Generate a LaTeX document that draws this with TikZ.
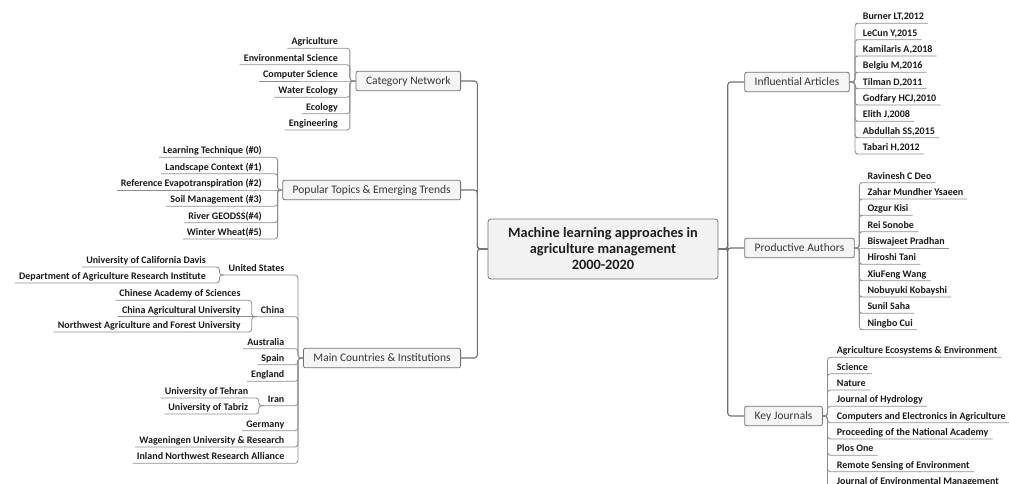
\documentclass[tikz,border=0pt]{standalone}
\usepackage{fontspec}
\setmainfont{Carlito}

\definecolor{gristrait}{HTML}{8E8E8E}
\definecolor{grisbord}{HTML}{727272}
\definecolor{fondboite}{HTML}{F5F5F5}

\tikzset{
  boite/.style={draw=grisbord, fill=fondboite, rounded corners=2pt, line width=0.8pt,
    inner xsep=10pt, minimum height=19.5pt, text=black!78,
    font=\fontsize{11.5}{13}\selectfont},
  feuille/.style={inner xsep=4pt, inner ysep=1.5pt, text height=7pt, text depth=2pt,
    text=black!90, font=\bfseries\fontsize{10}{12}\selectfont},
  trait/.style={draw=gristrait, line width=0.8pt, rounded corners=3pt},
  tronc/.style={draw=grisbord, line width=1.1pt, rounded corners=3pt},
}

\begin{document}
\begin{tikzpicture}[x=1pt,y=-1pt]

\useasboundingbox (0,0) rectangle (1009,483) ;

% boite centrale

\node[boite, fill=black!5, rounded corners=3pt, align=center, minimum width=230pt,
  minimum height=60pt, text=black!88, font=\bfseries\fontsize{14.3}{16}\selectfont]
  (centre) at (603,249) {Machine learning approaches in\\agriculture management\\2000-2020} ;

% branches

\node[boite, anchor=east] (cat) at (461,81) {Category Network} ;
\node[boite, anchor=east] (pop) at (461,190) {Popular Topics \& Emerging Trends} ;
\node[boite, anchor=east] (mci) at (461,358) {Main Countries \& Institutions} ;

\node[boite, anchor=west] (art) at (744.3,82) {Influential Articles} ;
\node[boite, anchor=west] (aut) at (744.3,248) {Productive Authors} ;
\node[boite, anchor=west] (jou) at (744.3,416) {Key Journals} ;

\draw[tronc] (centre.west) -- ++(-10.3,0) |- (cat.east) ;
\draw[tronc] (centre.west) -- ++(-10.3,0) |- (pop.east) ;
\draw[tronc] (centre.west) -- ++(-10.3,0) |- (mci.east) ;
\draw[tronc] (centre.east) -- ++(9.3,0) |- (art.west) ;
\draw[tronc] (centre.east) -- ++(9.3,0) |- (aut.west) ;
\draw[tronc] (centre.east) -- ++(9.3,0) |- (jou.west) ;

% feuilles Category Network

\node[feuille, anchor=south east] (cat1) at (342,48.3) {Agriculture} ;
\node[feuille, anchor=south east] (cat2) at (342,64.7) {Environmental Science} ;
\node[feuille, anchor=south east] (cat3) at (342,81) {Computer Science} ;
\node[feuille, anchor=south east] (cat4) at (342,97.3) {Water Ecology} ;
\node[feuille, anchor=south east] (cat5) at (342,113.7) {Ecology} ;
\node[feuille, anchor=south east] (cat6) at (342,130) {Engineering} ;

\draw[trait] (cat.west) -- ++(-5.7,0) |- (cat1.south east) -- (cat1.south west) ;
\draw[trait] (cat.west) -- ++(-5.7,0) |- (cat2.south east) -- (cat2.south west) ;
\draw[trait] (cat.west) -- (cat3.south east) -- (cat3.south west) ;
\draw[trait] (cat.west) -- ++(-5.7,0) |- (cat4.south east) -- (cat4.south west) ;
\draw[trait] (cat.west) -- ++(-5.7,0) |- (cat5.south east) -- (cat5.south west) ;
\draw[trait] (cat.west) -- ++(-5.7,0) |- (cat6.south east) -- (cat6.south west) ;

% feuilles Popular Topics

\node[feuille, anchor=south east] (pop1) at (266,157.3) {Learning Technique (\#0)} ;
\node[feuille, anchor=south east] (pop2) at (266,173.7) {Landscape Context (\#1)} ;
\node[feuille, anchor=south east] (pop3) at (266,190) {Reference Evapotranspiration (\#2)} ;
\node[feuille, anchor=south east] (pop4) at (266,206.3) {Soil Management (\#3)} ;
\node[feuille, anchor=south east] (pop5) at (266,222.7) {River GEODSS(\#4)} ;
\node[feuille, anchor=south east] (pop6) at (266,239) {Winter Wheat(\#5)} ;

\draw[trait] (pop.west) -- ++(-4.7,0) |- (pop1.south east) -- (pop1.south west) ;
\draw[trait] (pop.west) -- ++(-4.7,0) |- (pop2.south east) -- (pop2.south west) ;
\draw[trait] (pop.west) -- (pop3.south east) -- (pop3.south west) ;
\draw[trait] (pop.west) -- ++(-4.7,0) |- (pop4.south east) -- (pop4.south west) ;
\draw[trait] (pop.west) -- ++(-4.7,0) |- (pop5.south east) -- (pop5.south west) ;
\draw[trait] (pop.west) -- ++(-4.7,0) |- (pop6.south east) -- (pop6.south west) ;

% feuilles Main Countries

\node[feuille, anchor=south east] (usa) at (288.5,275) {United States} ;
\node[feuille, anchor=south east] (chn) at (288.5,316.7) {China} ;
\node[feuille, anchor=south east] (aus) at (288.5,348.7) {Australia} ;
\node[feuille, anchor=south east] (esp) at (288.5,364.7) {Spain} ;
\node[feuille, anchor=south east] (eng) at (288.5,381.3) {England} ;
\node[feuille, anchor=south east] (irn) at (288.5,405.7) {Iran} ;
\node[feuille, anchor=south east] (deu) at (288.5,430.7) {Germany} ;
\node[feuille, anchor=south east] (wur) at (288.5,447) {Wageningen University \& Research} ;
\node[feuille, anchor=south east] (inw) at (288.5,463.3) {Inland Northwest Research Alliance} ;

\draw[trait] (mci.west) -- ++(-5,0) |- (usa.south east) -- (usa.south west) ;
\draw[trait] (mci.west) -- ++(-5,0) |- (chn.south east) -- (chn.south west) ;
\draw[trait] (mci.west) -- ++(-5,0) |- (aus.south east) -- (aus.south west) ;
\draw[trait] (mci.west) -- ++(-5,0) |- (esp.south east) -- (esp.south west) ;
\draw[trait] (mci.west) -- ++(-5,0) |- (eng.south east) -- (eng.south west) ;
\draw[trait] (mci.west) -- ++(-5,0) |- (irn.south east) -- (irn.south west) ;
\draw[trait] (mci.west) -- ++(-5,0) |- (deu.south east) -- (deu.south west) ;
\draw[trait] (mci.west) -- ++(-5,0) |- (wur.south east) -- (wur.south west) ;
\draw[trait] (mci.west) -- ++(-5,0) |- (inw.south east) -- (inw.south west) ;

% institutions

\node[feuille, anchor=south east] (usa1) at (210,267) {University of California Davis} ;
\node[feuille, anchor=south east] (usa2) at (210,283) {Department of Agriculture Research Institute} ;
\node[feuille, anchor=south east] (chn1) at (244.7,300.3) {Chinese Academy of Sciences} ;
\node[feuille, anchor=south east] (chn2) at (244.7,316.7) {China Agricultural University} ;
\node[feuille, anchor=south east] (chn3) at (244.7,332) {Northwest Agriculture and Forest University} ;
\node[feuille, anchor=south east] (irn1) at (252.3,398) {University of Tehran} ;
\node[feuille, anchor=south east] (irn2) at (252.3,414) {University of Tabriz} ;

\draw[trait] (usa.south west) -- ++(-5,0) |- (usa1.south east) -- (usa1.south west) ;
\draw[trait] (usa.south west) -- ++(-5,0) |- (usa2.south east) -- (usa2.south west) ;
\draw[trait] (chn.south west) -- ++(-5,0) |- (chn1.south east) -- (chn1.south west) ;
\draw[trait] (chn.south west) -- (chn2.south east) -- (chn2.south west) ;
\draw[trait] (chn.south west) -- ++(-5,0) |- (chn3.south east) -- (chn3.south west) ;
\draw[trait] (irn.south west) -- ++(-5,0) |- (irn1.south east) -- (irn1.south west) ;
\draw[trait] (irn.south west) -- ++(-5,0) |- (irn2.south east) -- (irn2.south west) ;

% feuilles Influential Articles

\node[feuille, anchor=south west] (art1) at (858.7,23.3) {Burner LT,2012} ;
\node[feuille, anchor=south west] (art2) at (858.7,39.7) {LeCun Y,2015} ;
\node[feuille, anchor=south west] (art3) at (858.7,56) {Kamilaris A,2018} ;
\node[feuille, anchor=south west] (art4) at (858.7,72.3) {Belgiu M,2016} ;
\node[feuille, anchor=south west] (art5) at (858.7,88.7) {Tilman D,2011} ;
\node[feuille, anchor=south west] (art6) at (858.7,105) {Godfary HCJ,2010} ;
\node[feuille, anchor=south west] (art7) at (858.7,121.3) {Elith J,2008} ;
\node[feuille, anchor=south west] (art8) at (858.7,137.7) {Abdullah SS,2015} ;
\node[feuille, anchor=south west] (art9) at (858.7,154) {Tabari H,2012} ;

\draw[trait] (art.east) -- ++(5.3,0) |- (art1.south west) -- (art1.south east) ;
\draw[trait] (art.east) -- ++(5.3,0) |- (art2.south west) -- (art2.south east) ;
\draw[trait] (art.east) -- ++(5.3,0) |- (art3.south west) -- (art3.south east) ;
\draw[trait] (art.east) -- ++(5.3,0) |- (art4.south west) -- (art4.south east) ;
\draw[trait] (art.east) -- ++(5.3,0) |- (art5.south west) -- (art5.south east) ;
\draw[trait] (art.east) -- ++(5.3,0) |- (art6.south west) -- (art6.south east) ;
\draw[trait] (art.east) -- ++(5.3,0) |- (art7.south west) -- (art7.south east) ;
\draw[trait] (art.east) -- ++(5.3,0) |- (art8.south west) -- (art8.south east) ;
\draw[trait] (art.east) -- ++(5.3,0) |- (art9.south west) -- (art9.south east) ;

% feuilles Productive Authors

\node[feuille, anchor=south west] (aut1) at (863.3,182.7) {Ravinesh C Deo} ;
\node[feuille, anchor=south west] (aut2) at (863.3,199) {Zahar Mundher Ysaeen} ;
\node[feuille, anchor=south west] (aut3) at (863.3,215.3) {Ozgur Kisi} ;
\node[feuille, anchor=south west] (aut4) at (863.3,231.7) {Rei Sonobe} ;
\node[feuille, anchor=south west] (aut5) at (863.3,248) {Biswajeet Pradhan} ;
\node[feuille, anchor=south west] (aut6) at (863.3,264.3) {Hiroshi Tani} ;
\node[feuille, anchor=south west] (aut7) at (863.3,280.7) {XiuFeng Wang} ;
\node[feuille, anchor=south west] (aut8) at (863.3,297) {Nobuyuki Kobayshi} ;
\node[feuille, anchor=south west] (aut9) at (863.3,313.3) {Sunil Saha} ;
\node[feuille, anchor=south west] (aut10) at (863.3,329.7) {Ningbo Cui} ;

\draw[trait] (aut.east) -- ++(4.7,0) |- (aut1.south west) -- (aut1.south east) ;
\draw[trait] (aut.east) -- ++(4.7,0) |- (aut2.south west) -- (aut2.south east) ;
\draw[trait] (aut.east) -- ++(4.7,0) |- (aut3.south west) -- (aut3.south east) ;
\draw[trait] (aut.east) -- ++(4.7,0) |- (aut4.south west) -- (aut4.south east) ;
\draw[trait] (aut.east) -- (aut5.south west) -- (aut5.south east) ;
\draw[trait] (aut.east) -- ++(4.7,0) |- (aut6.south west) -- (aut6.south east) ;
\draw[trait] (aut.east) -- ++(4.7,0) |- (aut7.south west) -- (aut7.south east) ;
\draw[trait] (aut.east) -- ++(4.7,0) |- (aut8.south west) -- (aut8.south east) ;
\draw[trait] (aut.east) -- ++(4.7,0) |- (aut9.south west) -- (aut9.south east) ;
\draw[trait] (aut.east) -- ++(4.7,0) |- (aut10.south west) -- (aut10.south east) ;

% feuilles Key Journals

\node[feuille, anchor=south west] (jou1) at (832.7,357.3) {Agriculture Ecosystems \& Environment} ;
\node[feuille, anchor=south west] (jou2) at (832.7,373.7) {Science} ;
\node[feuille, anchor=south west] (jou3) at (832.7,390) {Nature} ;
\node[feuille, anchor=south west] (jou4) at (832.7,406.3) {Journal of Hydrology} ;
\node[feuille, anchor=south west] (jou5) at (832.7,422.7) {Computers and Electronics in Agriculture} ;
\node[feuille, anchor=south west] (jou6) at (832.7,439) {Proceeding of the National Academy} ;
\node[feuille, anchor=south west] (jou7) at (832.7,455.3) {Plos One} ;
\node[feuille, anchor=south west] (jou8) at (832.7,471.7) {Remote Sensing of Environment} ;
\node[feuille, anchor=south west] (jou9) at (832.7,488) {Journal of Environmental Management} ;

\draw[trait] (jou.east) -- ++(4.7,0) |- (jou1.south west) -- (jou1.south east) ;
\draw[trait] (jou.east) -- ++(4.7,0) |- (jou2.south west) -- (jou2.south east) ;
\draw[trait] (jou.east) -- ++(4.7,0) |- (jou3.south west) -- (jou3.south east) ;
\draw[trait] (jou.east) -- ++(4.7,0) |- (jou4.south west) -- (jou4.south east) ;
\draw[trait] (jou.east) -- ++(4.7,0) |- (jou5.south west) -- (jou5.south east) ;
\draw[trait] (jou.east) -- ++(4.7,0) |- (jou6.south west) -- (jou6.south east) ;
\draw[trait] (jou.east) -- ++(4.7,0) |- (jou7.south west) -- (jou7.south east) ;
\draw[trait] (jou.east) -- ++(4.7,0) |- (jou8.south west) -- (jou8.south east) ;
\draw[trait] (jou.east) -- ++(4.7,0) |- (jou9.south west) -- (jou9.south east) ;

\end{tikzpicture}
\end{document}
